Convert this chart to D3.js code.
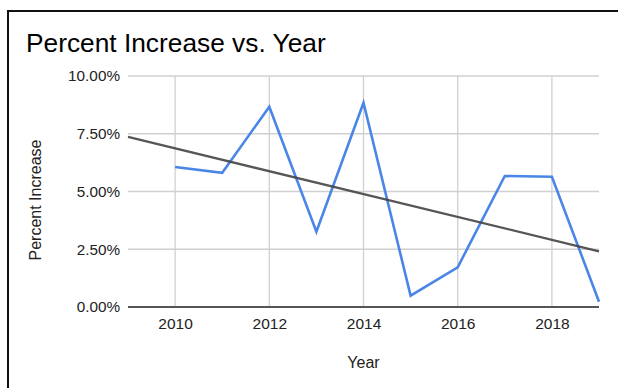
<!DOCTYPE html>
<html>
<head>
<meta charset="utf-8">
<script src="https://cdn.jsdelivr.net/npm/d3@7"></script>
<style>
	body { margin: 0; background: #fff; }
	svg { display: block; font-family: "Liberation Sans", Arial, sans-serif; }
</style>
</head>
<body>
<div id="chart"></div>
<script>
const years = [2010, 2011, 2012, 2013, 2014, 2015, 2016, 2017, 2018, 2019];
const percentIncrease = [6.06, 5.81, 8.67, 3.26, 8.84, 0.49, 1.72, 5.67, 5.64, 0.23];
const yTicks = [0, 2.5, 5, 7.5, 10];
const xTicks = [2010, 2012, 2014, 2016, 2018];

const width = 618;
const height = 388;
const margin = { top: 76, right: 19, bottom: 81, left: 128 };

const svg = d3
	.select("#chart")
	.append("svg")
	.attr("width", width)
	.attr("height", height);

// frame (top and left edges visible in the screenshot)
svg.append("path")
	.attr("d", `M8,${height} V11 H${width}`)
	.attr("fill", "none")
	.attr("stroke", "#111")
	.attr("stroke-width", 2);

svg.append("text")
	.attr("x", 26)
	.attr("y", 52)
	.attr("font-size", 26.3)
	.attr("fill", "#000")
	.text("Percent Increase vs. Year");

const x = d3.scaleLinear().domain([2009, 2019]).range([margin.left, width - margin.right]);
const y = d3.scaleLinear().domain([0, 10]).range([height - margin.bottom, margin.top]);

const g = svg.append("g");

// gridlines
g.selectAll(".vgrid")
	.data(xTicks)
	.join("line")
	.attr("x1", (d) => x(d))
	.attr("x2", (d) => x(d))
	.attr("y1", y(10))
	.attr("y2", y(0))
	.attr("stroke", "#d0d0d0")
	.attr("stroke-width", 1.3);

g.selectAll(".hgrid")
	.data(yTicks.filter((d) => d > 0))
	.join("line")
	.attr("x1", x(2009))
	.attr("x2", x(2019))
	.attr("y1", (d) => y(d))
	.attr("y2", (d) => y(d))
	.attr("stroke", "#d0d0d0")
	.attr("stroke-width", 1.3);

// y axis labels
const yAxis = g.append("g")
	.attr("transform", `translate(${margin.left},0)`)
	.call(d3.axisLeft(y).tickValues(yTicks).tickSize(0).tickPadding(8).tickFormat((d) => d3.format(".2f")(d) + "%"));
yAxis.select(".domain").remove();
yAxis.selectAll("text")
	.attr("font-family", "Liberation Sans, Arial, sans-serif")
	.attr("font-size", 15.3)
	.attr("fill", "#222");

// x axis labels
const xAxis = g.append("g")
	.attr("transform", `translate(0,${y(0)})`)
	.call(d3.axisBottom(x).tickValues(xTicks).tickSize(0).tickPadding(11).tickFormat(d3.format("d")));
xAxis.select(".domain").remove();
xAxis.selectAll("text")
	.attr("font-family", "Liberation Sans, Arial, sans-serif")
	.attr("font-size", 15.5)
	.attr("fill", "#222");

// baseline
g.append("line")
	.attr("x1", x(2009))
	.attr("x2", x(2019))
	.attr("y1", y(0))
	.attr("y2", y(0))
	.attr("stroke", "#555")
	.attr("stroke-width", 2);

// axis titles
svg.append("text")
	.attr("x", x(2014))
	.attr("y", 368)
	.attr("text-anchor", "middle")
	.attr("font-size", 16)
	.attr("fill", "#222")
	.text("Year");

svg.append("text")
	.attr("transform", `translate(41,200) rotate(-90)`)
	.attr("text-anchor", "middle")
	.attr("font-size", 16)
	.attr("fill", "#222")
	.text("Percent Increase");

// data line
const points = years.map((yr, i) => ({ x: yr, y: percentIncrease[i] }));
const line = d3.line().x((d) => x(d.x)).y((d) => y(d.y));

g.append("path")
	.datum(points)
	.attr("d", line)
	.attr("fill", "none")
	.attr("stroke", "#4a86e8")
	.attr("stroke-width", 2.6)
	.attr("stroke-linejoin", "miter");

// linear trendline (least squares)
const mx = d3.mean(years);
const my = d3.mean(percentIncrease);
const slope = d3.sum(years, (yr, i) => (yr - mx) * (percentIncrease[i] - my)) / d3.sum(years, (yr) => (yr - mx) ** 2);
const trend = [2009, 2019].map((yr) => ({ x: yr, y: my + slope * (yr - mx) }));

g.append("path")
	.datum(trend)
	.attr("d", line)
	.attr("fill", "none")
	.attr("stroke", "#444")
	.attr("stroke-opacity", 0.9)
	.attr("stroke-width", 2.3);
</script>
</body>
</html>
